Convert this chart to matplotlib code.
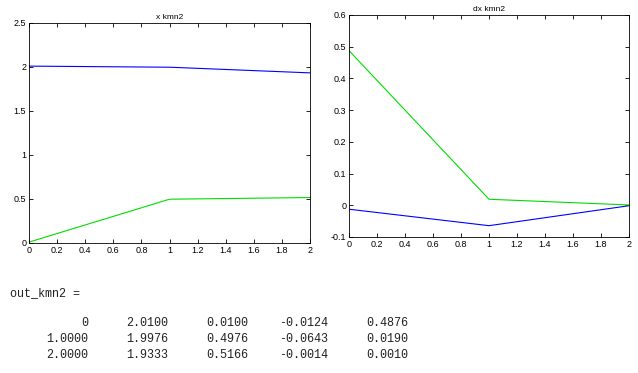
import matplotlib
matplotlib.use("Agg")
import matplotlib.pyplot as plt

plt.rcParams["font.family"] = ["Liberation Sans", "DejaVu Sans"]

# out_kmn2 columns: t, x1, x2, dx1, dx2
t = [0, 1.0, 2.0]
x1 = [2.0100, 1.9976, 1.9333]
x2 = [0.0100, 0.4976, 0.5166]
dx1 = [-0.0124, -0.0643, -0.0014]
dx2 = [0.4876, 0.0190, 0.0010]

W, H = 638, 373
fig = plt.figure(figsize=(W / 100, H / 100), dpi=100)
fig.patch.set_facecolor("white")


def box(l, t_, r, b):
    return [l / W, 1 - b / H, (r - l) / W, (b - t_) / H]


def style(ax):
    ax.tick_params(direction="in", labelsize=6.5, length=3, width=0.6,
                   top=True, right=True, pad=2)
    for s in ax.spines.values():
        s.set_linewidth(0.6)


xt = [0, 0.2, 0.4, 0.6, 0.8, 1, 1.2, 1.4, 1.6, 1.8, 2]
xtl = ["0", "0.2", "0.4", "0.6", "0.8", "1", "1.2", "1.4", "1.6", "1.8", "2"]

ax1 = fig.add_axes(box(29, 23, 310, 243))
ax1.plot(t, x1, color="#0000ff", lw=0.8)
ax1.plot(t, x2, color="#00dd00", lw=0.8)
ax1.set_xlim(0, 2)
ax1.set_ylim(0, 2.5)
ax1.set_xticks(xt)
ax1.set_xticklabels(xtl)
ax1.set_yticks([0, 0.5, 1, 1.5, 2, 2.5])
ax1.set_yticklabels(["0", "0.5", "1", "1.5", "2", "2.5"])
ax1.set_title("x kmn2", fontsize=6, pad=3)
style(ax1)

ax2 = fig.add_axes(box(349, 15, 629, 237))
ax2.plot(t, dx1, color="#0000ff", lw=0.8)
ax2.plot(t, dx2, color="#00dd00", lw=0.8)
ax2.set_xlim(0, 2)
ax2.set_ylim(-0.1, 0.6)
ax2.set_xticks(xt)
ax2.set_xticklabels(xtl)
ax2.set_yticks([-0.1, 0, 0.1, 0.2, 0.3, 0.4, 0.5, 0.6])
ax2.set_yticklabels(["-0.1", "0", "0.1", "0.2", "0.3", "0.4", "0.5", "0.6"])
ax2.set_title("dx kmn2", fontsize=6, pad=3)
style(ax2)

# console output below the plots
mono = "Liberation Mono"
fig.text(10 / W, 1 - 293 / H, "out_kmn2 =", family=mono, fontsize=8.5,
         va="center", ha="left", color="#222222")


def fmt(v):
    return "0" if v == 0 else "%.4f" % v


cols = [t, x1, x2, dx1, dx2]
col_right = [88, 168, 248, 328, 408]
row_y = [323, 339, 355]
for ci, col in enumerate(cols):
    for ri, v in enumerate(col):
        fig.text(col_right[ci] / W, 1 - row_y[ri] / H, fmt(v), family=mono,
                 fontsize=8.5, va="center", ha="right", color="#222222")

fig.savefig("out.png", dpi=100)
